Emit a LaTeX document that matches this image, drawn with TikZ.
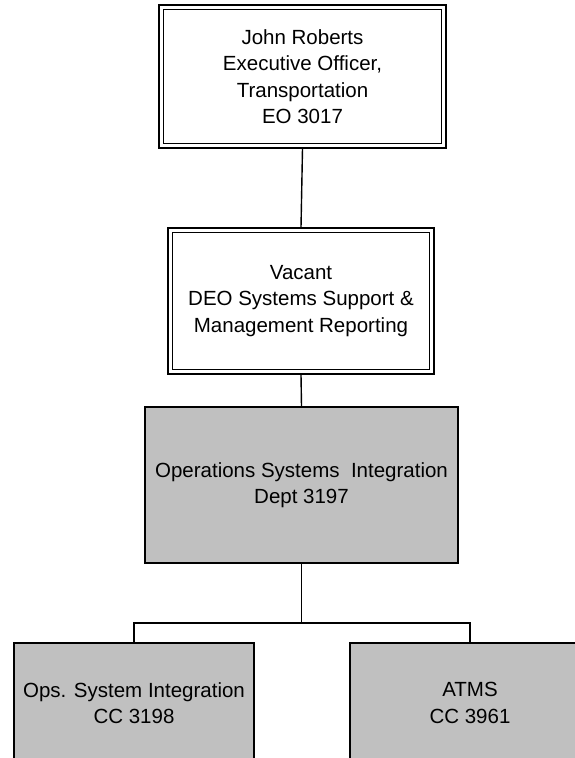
\documentclass[tikz,border=0pt]{standalone}
\usepackage{fontspec}
\setmainfont{Liberation Sans}
\definecolor{boxgray}{HTML}{C0C0C0}
\begin{document}
\begin{tikzpicture}[x=1pt,y=-1pt,
  txt/.style={align=center,inner sep=0pt,font=\fontsize{20.5}{26.5}\selectfont},
  whitebox/.style={txt,draw=black,line width=1.1pt,fill=white},
  graybox/.style={txt,draw=black,line width=1.6pt,fill=boxgray},
  link/.style={draw=black,line width=1.4pt}]
\useasboundingbox (0,0) rectangle (575,758);
\clip (0,0) rectangle (575,758);
\fill[white] (0,0) rectangle (575,758);
% nodes
\node[whitebox,minimum width=287pt,minimum height=143pt] (top) at (302.5,76.5)
  {John Roberts\\Executive Officer,\\Transportation\\EO 3017};
\draw[line width=1.8pt] ([shift={(5,5)}]top.north west) rectangle ([shift={(-5,-5)}]top.south east);
\node[whitebox,minimum width=266pt,minimum height=146pt] (deo) at (301,301)
  {Vacant\\DEO Systems Support \&\\Management Reporting};
\draw[line width=1.8pt] ([shift={(5,5)}]deo.north west) rectangle ([shift={(-5,-5)}]deo.south east);
\node[graybox,minimum width=313pt,minimum height=156pt] (ops) at (301.5,485)
  {Operations Systems\ \ Integration\\Dept 3197};
\node[graybox,minimum width=240pt,minimum height=120pt] (left) at (134,703)
  {Ops. System Integration\\CC 3198};
\node[graybox,minimum width=240pt,minimum height=120pt] (right) at (470,703)
  {ATMS\\CC 3961};
% connectors
\coordinate (j) at (ops.south |- 0,623);
\draw[link] (top.south) -- (deo.north);
\draw[link] (deo.south) -- (ops.north);
\draw[link] (ops.south) -- (j);
\draw[link] (left.north) |- (j) -| (right.north);
\end{tikzpicture}
\end{document}
